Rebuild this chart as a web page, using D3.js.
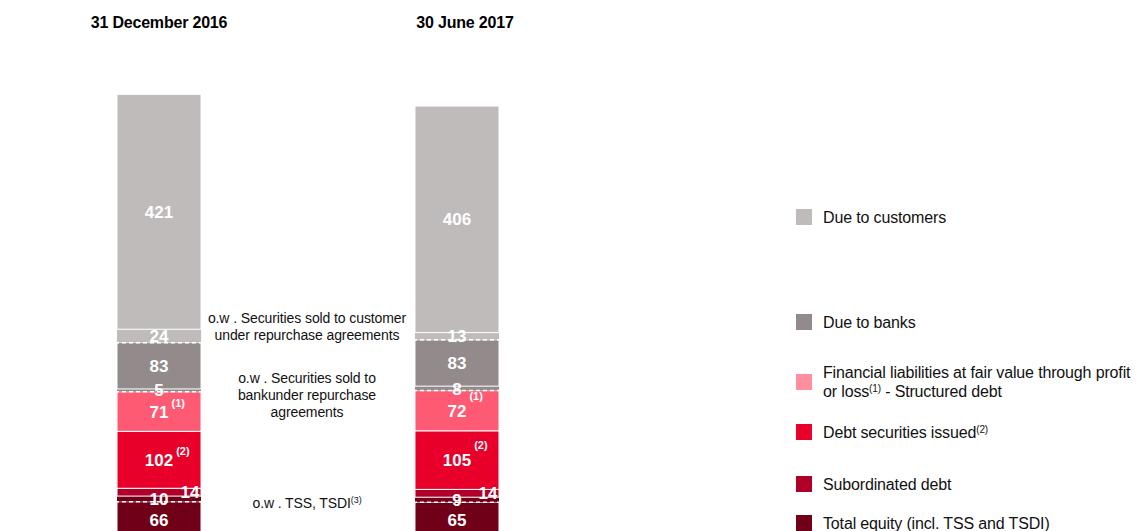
<!DOCTYPE html>
<html>
<head>
<meta charset="utf-8">
<script src="https://cdn.jsdelivr.net/npm/d3@7"></script>
<style>
  body { margin: 0; background: #fff; }
  text { font-family: "Liberation Sans", Arial, sans-serif; }
</style>
</head>
<body>
<svg id="chart" width="1138" height="531"></svg>
<script>
// ---- data ----
var periods = ["31 December 2016", "30 June 2017"];
var segments = ["customers", "customersRepo", "banks", "banksRepo", "fvtpl", "debtSec", "subDebt", "tss", "equity"];
var values2016 = [421, 24, 83, 5, 71, 102, 14, 10, 66];
var values2017 = [406, 13, 83, 8, 72, 105, 14, 9, 65];
var footnotes = ["", "", "", "", "(1)", "(2)", "", "", ""];
var legendLabels = [
  ["Due to customers"],
  ["Due to banks"],
  ["Financial liabilities at fair value through profit", "or loss|(1)| - Structured debt"],
  ["Debt securities issued|(2)"],
  ["Subordinated  debt"],
  ["Total equity (incl. TSS and TSDI)"]
];
var notes = [
  { after: "customersRepo", lines: ["o.w . Securities sold to customer", "under repurchase agreements"] },
  { after: "banksRepo", lines: ["o.w . Securities sold to", "bankunder repurchase", "agreements"] },
  { after: "tss", lines: ["o.w . TSS, TSDI|(3)"] }
];

// ---- style ----
var colors = {
  customers: "#bfbbbb", customersRepo: "#bfbbbb",
  banks: "#928a8b", banksRepo: "#928a8b",
  fvtpl: "#ff5a73", debtSec: "#e8002a", subDebt: "#b0002a",
  tss: "#700018", equity: "#700018"
};
var legendColors = ["#bfbbbb", "#928a8b", "#ff8fa0", "#e8002a", "#b0002a", "#700018"];
var isSub = { customersRepo: true, banksRepo: true, tss: true };

var svg = d3.select("#chart");

var rows = periods.map(function (p, i) {
  var r = { period: p };
  var vals = i === 0 ? values2016 : values2017;
  segments.forEach(function (s, j) { r[s] = vals[j]; });
  return r;
});

// stack top-down: first segment on top
var stack = d3.stack().keys(segments.slice().reverse());
var series = stack(rows);

var x = d3.scaleBand().domain(periods).range([117, 499]).paddingInner(0.718).paddingOuter(0);
var y = d3.scaleLinear().domain([0, 796]).range([538.5, 94.3]);

var bw = x.bandwidth();

var g = svg.append("g");

series.forEach(function (ser) {
  var key = ser.key;
  g.selectAll(null)
    .data(ser)
    .enter()
    .append("rect")
    .attr("x", function (d) { return x(d.data.period); })
    .attr("width", bw)
    .attr("y", function (d) { return y(d[1]); })
    .attr("height", function (d) { return y(d[0]) - y(d[1]); })
    .attr("fill", colors[key])
    .attr("stroke", "#fff")
    .attr("stroke-width", isSub[key] ? 0 : 1);
});

// dashed lines at the bottom of "of which" parts
series.filter(function (s) { return isSub[s.key]; }).forEach(function (ser) {
  g.selectAll(null)
    .data(ser)
    .enter()
    .append("line")
    .attr("x1", function (d) { return x(d.data.period) - 2; })
    .attr("x2", function (d) { return x(d.data.period) + bw + 2; })
    .attr("y1", function (d) { return y(d[0]); })
    .attr("y2", function (d) { return y(d[0]); })
    .attr("stroke", "#fff")
    .attr("stroke-width", 1.5)
    .attr("stroke-dasharray", "4,3");
});

// value labels
series.forEach(function (ser) {
  var key = ser.key;
  var idx = segments.indexOf(key);
  ser.forEach(function (d, k) {
    var cx = x(d.data.period) + bw / 2;
    if (key === "subDebt") cx = x(d.data.period) + bw - 11;
    var cy = (y(d[0]) + y(d[1])) / 2;
    var t = g.append("text")
      .attr("x", cx)
      .attr("y", cy)
      .attr("dy", "0.36em")
      .attr("text-anchor", "middle")
      .attr("fill", "#fff")
      .attr("font-size", 17)
      .attr("font-weight", "bold")
      .text(d.data[key]);
    if (footnotes[idx]) {
      var w = t.node().getComputedTextLength();
      g.append("text")
        .attr("x", cx + w / 2 + 3)
        .attr("y", cy - (k === 0 ? 5 : 11))
        .attr("fill", "#fff")
        .attr("font-size", 11)
        .attr("font-weight", "bold")
        .text(footnotes[idx]);
    }
  });
});

// period titles
svg.selectAll(".title")
  .data(periods)
  .enter()
  .append("text")
  .attr("class", "title")
  .attr("x", function (d, i) { return x(d) + bw / 2 + (i === 0 ? 0 : 8); })
  .attr("y", 28)
  .attr("text-anchor", "middle")
  .attr("font-size", 16)
  .attr("font-weight", "bold")
  .attr("letter-spacing", -0.2)
  .attr("fill", "#000")
  .text(function (d) { return d; });

// helper for text with |superscript| parts
function richText(sel, str, supSize) {
  str.split("|").forEach(function (part, i) {
    var ts = sel.append("tspan").text(part);
    if (i % 2 === 1) {
      ts.attr("font-size", supSize).attr("dy", -5);
    } else if (i > 0) {
      ts.attr("dy", 5);
    }
  });
}

// annotations between the bars
var noteX = (x(periods[0]) + bw + x(periods[1])) / 2;
var noteY = { customersRepo: 318, banksRepo: 378, tss: 503 };
notes.forEach(function (n) {
  n.lines.forEach(function (line, i) {
    var t = svg.append("text")
      .attr("x", noteX - 1)
      .attr("y", noteY[n.after] + i * 17)
      .attr("dy", "0.35em")
      .attr("text-anchor", "middle")
      .attr("font-size", 14)
      .attr("letter-spacing", -0.1)
      .attr("fill", "#111");
    richText(t, line, 9);
  });
});

// legend
var legendY = [217, 322, 382, 432, 484, 523];
var leg = svg.append("g");
legendLabels.forEach(function (lines, i) {
  leg.append("rect")
    .attr("x", 796)
    .attr("y", legendY[i] - 8)
    .attr("width", 16)
    .attr("height", 16)
    .attr("fill", legendColors[i]);
  lines.forEach(function (line, j) {
    var yy = legendY[i] + (lines.length > 1 ? (j - 0.5) * 19 : 0);
    var t = leg.append("text")
      .attr("x", 823)
      .attr("y", yy)
      .attr("dy", "0.35em")
      .attr("font-size", 16)
      .attr("letter-spacing", -0.15)
      .attr("fill", "#111");
    richText(t, line, 10);
  });
});
</script>
</body>
</html>
